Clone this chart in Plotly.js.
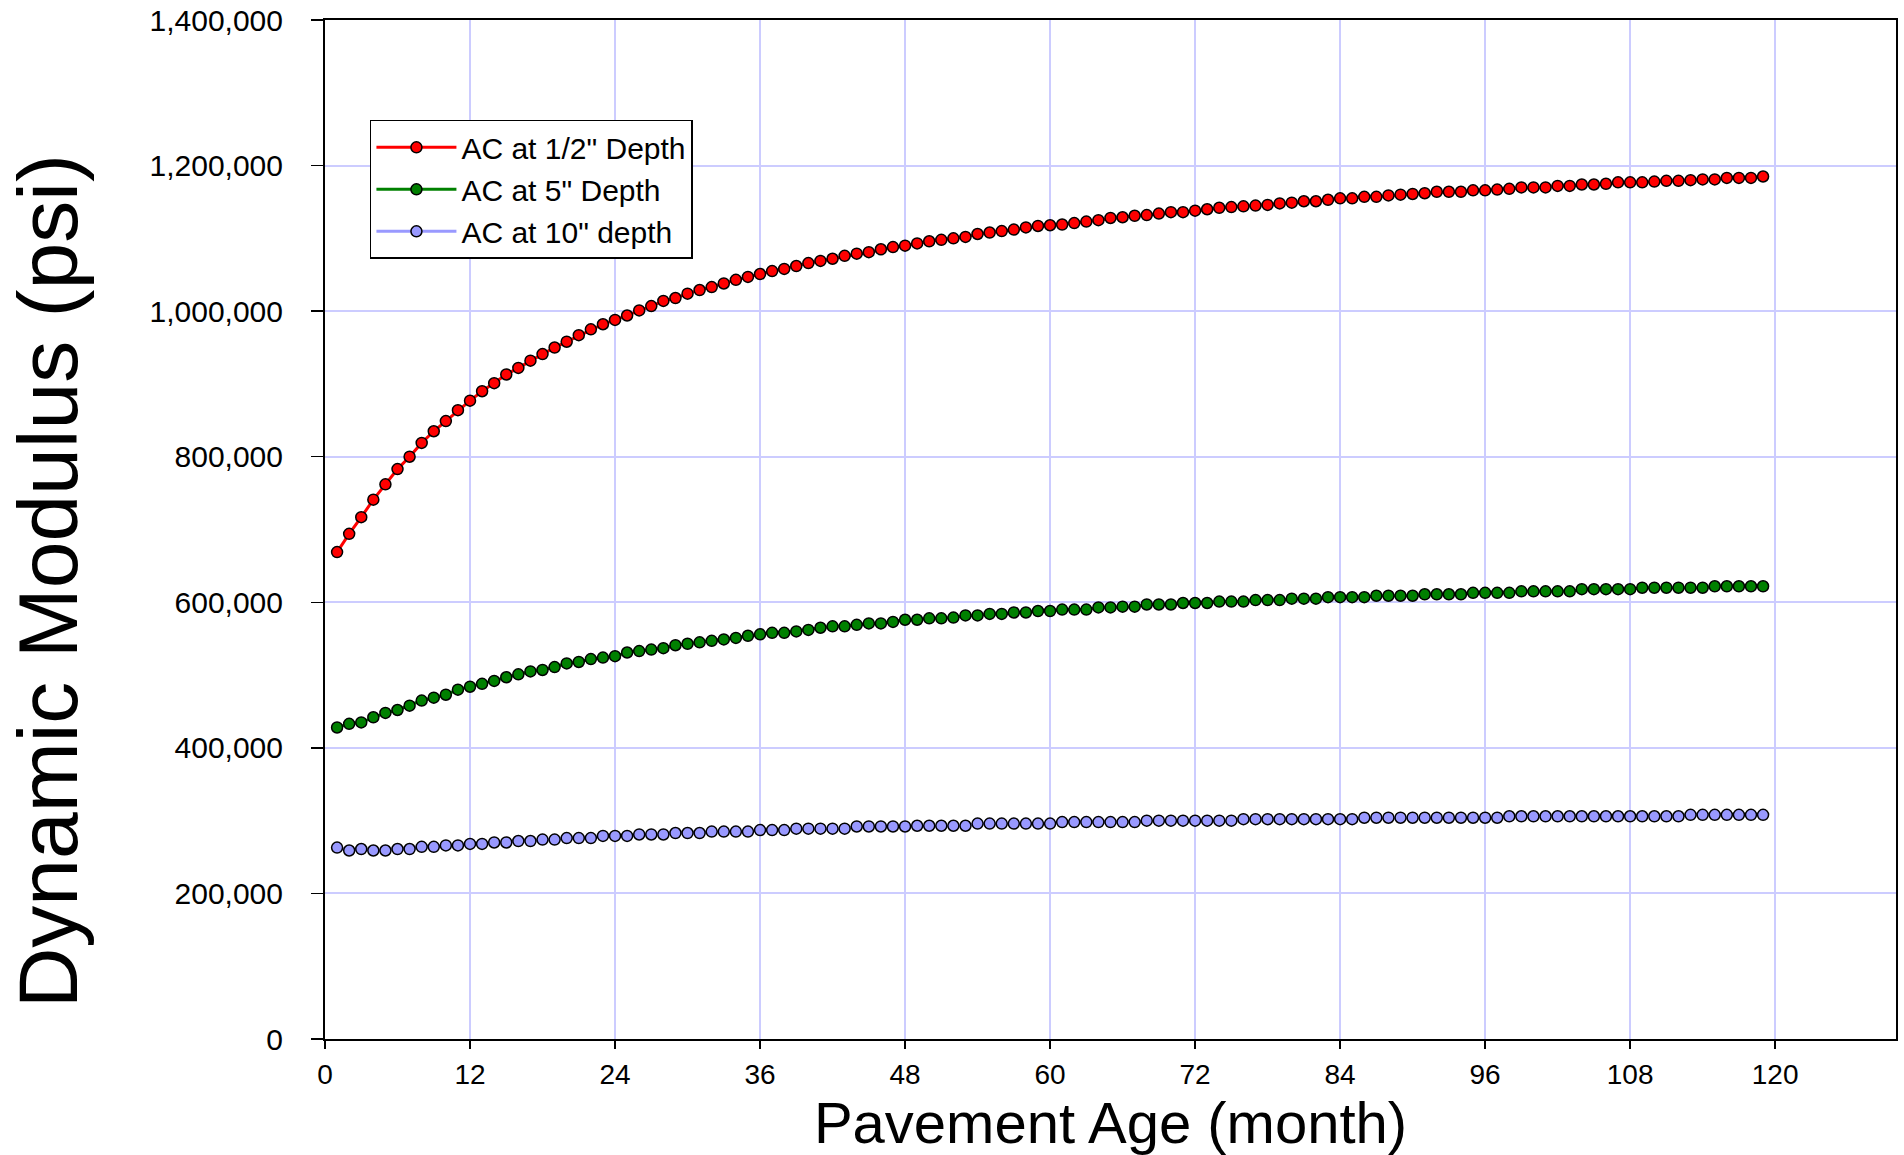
<!DOCTYPE html>
<html>
<head>
<meta charset="utf-8">
<script src="https://cdn.plot.ly/plotly-3.0.1.min.js"></script>
<style>html,body{margin:0;padding:0;background:#fff;}#chart{width:1904px;height:1155px;}</style>
</head>
<body>
<div id="chart"></div>
<script>
const months = [1,2,3,4,5,6,7,8,9,10,11,12,13,14,15,16,17,18,19,20,21,22,23,24,25,26,27,28,29,30,
31,32,33,34,35,36,37,38,39,40,41,42,43,44,45,46,47,48,49,50,51,52,53,54,55,56,57,58,59,60,
61,62,63,64,65,66,67,68,69,70,71,72,73,74,75,76,77,78,79,80,81,82,83,84,85,86,87,88,89,90,
91,92,93,94,95,96,97,98,99,100,101,102,103,104,105,106,107,108,109,110,111,112,113,114,115,116,117,118,119];

const acHalfInch = [669000,694000,717000,741000,762000,783000,800000,819000,835000,849000,
864000,877000,890000,901000,913000,922000,932000,941000,950000,958000,
967000,975000,982000,988000,994000,1001000,1007000,1014000,1018000,1024000,
1029000,1033000,1038000,1043000,1047000,1051000,1055000,1058000,1062000,1066000,
1069000,1072000,1076000,1079000,1081000,1085000,1088000,1090000,1093000,1096000,
1098000,1100000,1102000,1106000,1108000,1110000,1112000,1115000,1117000,1118000,
1119000,1121000,1123000,1125000,1128000,1129000,1131000,1132000,1134000,1136000,
1136000,1138000,1140000,1142000,1143000,1144000,1145000,1146000,1148000,1149000,
1151000,1151000,1153000,1155000,1155000,1157000,1157000,1159000,1160000,1161000,
1162000,1164000,1164000,1164000,1166000,1166000,1167000,1168000,1170000,1170000,
1170000,1172000,1172000,1174000,1174000,1175000,1177000,1177000,1177000,1178000,
1179000,1179000,1180000,1181000,1181000,1183000,1183000,1183000,1185000];

const acFiveInch = [428000,433000,435000,442000,448000,452000,458000,465000,469000,473000,
480000,484000,488000,492000,497000,501000,505000,507000,511000,516000,
518000,522000,524000,526000,531000,533000,535000,537000,541000,543000,
545000,547000,549000,551000,554000,556000,558000,558000,560000,562000,
565000,567000,567000,569000,571000,571000,573000,576000,576000,578000,
578000,579000,582000,582000,584000,584000,586000,586000,588000,588000,
590000,590000,590000,593000,593000,594000,594000,597000,597000,597000,
599000,599000,599000,601000,601000,601000,603000,603000,603000,605000,
605000,605000,607000,607000,607000,607000,609000,609000,609000,609000,
611000,611000,611000,611000,613000,613000,613000,613000,615000,615000,
615000,615000,615000,618000,618000,618000,618000,618000,620000,620000,
620000,620000,620000,620000,622000,622000,622000,622000,622000];

const acTenInch = [263000,259000,261000,259000,259000,261000,261000,264000,264000,266000,
266000,268000,268000,270000,270000,272000,272000,274000,274000,276000,
276000,276000,279000,279000,279000,281000,281000,281000,283000,283000,
283000,285000,285000,285000,285000,287000,287000,287000,289000,289000,
289000,289000,289000,292000,292000,292000,292000,292000,293000,293000,
293000,293000,293000,296000,296000,296000,296000,296000,296000,296000,
298000,298000,298000,298000,298000,298000,298000,300000,300000,300000,
300000,300000,300000,300000,300000,302000,302000,302000,302000,302000,
302000,302000,302000,302000,302000,304000,304000,304000,304000,304000,
304000,304000,304000,304000,304000,304000,304000,306000,306000,306000,
306000,306000,306000,306000,306000,306000,306000,306000,306000,306000,
306000,306000,308000,308000,308000,308000,308000,308000,308000];

const seriesNames = ['AC at 1/2" Depth', 'AC at 5" Depth', 'AC at 10" depth'];
const xTitle = 'Pavement Age (month)';
const yTitle = 'Dynamic Modulus (psi)';
const xTicks = [0,12,24,36,48,60,72,84,96,108,120];
const yTicks = [0,200000,400000,600000,800000,1000000,1200000,1400000];
const yTickText = ['0','200,000','400,000','600,000','800,000','1,000,000','1,200,000','1,400,000'];

const FONT = '"Liberation Sans", Arial, Helvetica, sans-serif';

function trace(y, name, lineColor, fillColor) {
  return {
    x: months, y: y, name: name, type: 'scatter', mode: 'lines+markers',
    line: {color: lineColor, width: 3},
    marker: {symbol: 'circle', size: 11, color: fillColor, line: {color: '#000000', width: 1.5}}
  };
}

const data = [
  trace(acHalfInch, seriesNames[0], '#FF0000', '#FF0000'),
  trace(acFiveInch, seriesNames[1], '#008000', '#008000'),
  trace(acTenInch, seriesNames[2], '#9999FF', '#9999FF')
];

const layout = {
  width: 1904, height: 1155,
  margin: {l: 325, r: 8, t: 20, b: 116, pad: 0},
  paper_bgcolor: '#ffffff', plot_bgcolor: '#ffffff',
  font: {family: FONT, color: '#000000', size: 30},
  showlegend: true,
  legend: {
    x: 0.0286, y: 0.902, xanchor: 'left', yanchor: 'top',
    bgcolor: '#ffffff', bordercolor: '#000000', borderwidth: 1.5,
    font: {family: FONT, size: 30, color: '#000000'},
    tracegroupgap: 0, itemwidth: 80
  },
  xaxis: {
    range: [0, 130], tickmode: 'array', tickvals: xTicks,
    ticks: 'outside', ticklen: 8, tickwidth: 1.5, tickcolor: '#000000',
    showline: true, linecolor: '#000000', linewidth: 2, mirror: true,
    showgrid: true, gridcolor: '#CCCCFF', gridwidth: 2, zeroline: false,
    tickfont: {family: FONT, size: 28, color: '#000000'},
    ticklabelstandoff: 1,
    title: {text: xTitle, font: {family: FONT, size: 58, color: '#000000'}, standoff: 15}
  },
  yaxis: {
    range: [0, 1400000], tickmode: 'array', tickvals: yTicks, ticktext: yTickText,
    ticks: 'outside', ticklen: 12, tickwidth: 1.5, tickcolor: '#000000',
    showline: true, linecolor: '#000000', linewidth: 2, mirror: true,
    showgrid: true, gridcolor: '#CCCCFF', gridwidth: 2, zeroline: false,
    tickfont: {family: FONT, size: 30, color: '#000000'},
    ticklabelstandoff: 22
  },
  annotations: [{
    text: yTitle, textangle: -90, showarrow: false,
    xref: 'paper', yref: 'paper', x: -0.2063, y: 0.449,
    xanchor: 'left', yanchor: 'middle', borderpad: 0,
    font: {family: FONT, size: 84, color: '#000000'}
  }]
};

Plotly.newPlot('chart', data, layout, {displayModeBar: false, staticPlot: true});
</script>
</body>
</html>
